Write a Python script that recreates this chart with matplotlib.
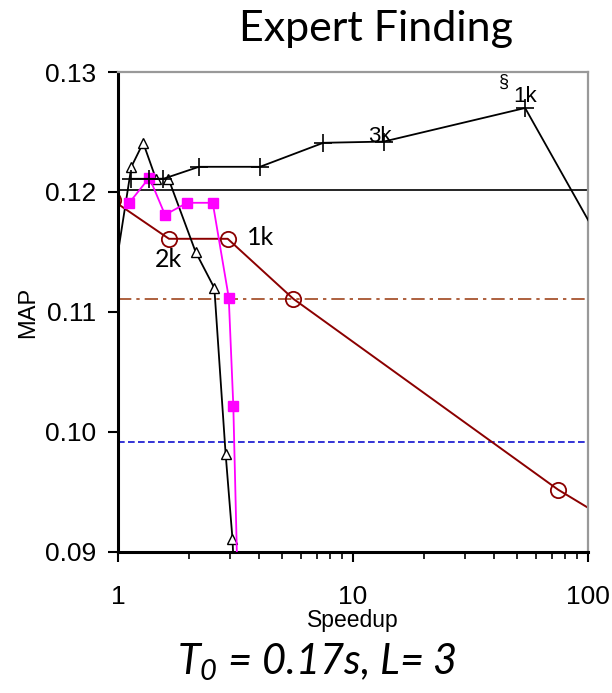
import numpy as np
import matplotlib
matplotlib.use('Agg')
import matplotlib.pyplot as plt
from matplotlib.ticker import LogLocator, NullFormatter, FixedLocator

plt.rcParams['mathtext.fontset'] = 'custom'
plt.rcParams['mathtext.it'] = 'Lato:italic'
plt.rcParams['mathtext.rm'] = 'Lato:italic'

# series (speedup, MAP)
plus_x = [1.14, 1.35, 1.56, 2.21, 4.02, 7.48, 13.5, 54.0, 200.0]
plus_y = [0.1211, 0.1211, 0.1211, 0.1221, 0.1221, 0.1241, 0.1242, 0.1270, 0.1072]

tri_x = [0.90, 1.14, 1.28, 1.45, 1.64, 2.14, 2.57, 2.87, 3.07, 3.12]
tri_y = [0.1092, 0.1221, 0.1241, 0.1211, 0.1211, 0.1150, 0.1120, 0.0982, 0.0911, 0.0880]

sq_x = [1.117, 1.36, 1.585, 1.97, 2.53, 2.96, 3.095, 3.25]
sq_y = [0.1191, 0.1212, 0.1181, 0.1191, 0.1191, 0.1112, 0.1022, 0.0850]

circ_x = [0.95, 1.648, 2.93, 5.57, 74.5, 150.0]
circ_y = [0.1193, 0.1161, 0.1161, 0.1111, 0.0952, 0.0916]

ref_solid = 0.1202
ref_dashdot = 0.1111
ref_dashed = 0.0992

# (text, x, y, font)
labels = [("2k", 1.64, 0.1144, 'Lato'), ("1k", 4.05, 0.1162, 'Lato'),
          ("3k", 13.0, 0.1246, 'Liberation Sans'), ("1k", 53.9, 0.1280, 'Liberation Sans')]

fig = plt.figure(figsize=(6.12, 6.93), dpi=100)
ax = fig.add_axes([0.1928, 0.2035, 0.768, 0.6926])

ax.axhline(ref_solid, color='black', lw=1.2, zorder=1)
ax.axhline(ref_dashdot, color='#a0461e', lw=1.2, ls=(0, (8, 3, 2, 3)), zorder=1)
ax.axhline(ref_dashed, color='#1010d0', lw=1.2, ls=(0, (4, 2)), zorder=1)

ax.plot(circ_x, circ_y, color='#8b0000', lw=1.4, marker='o', ms=11,
        mfc='none', mec='#8b0000', mew=1.3, zorder=2)
ax.plot(tri_x, tri_y, color='black', lw=1.3, marker='^', ms=7,
        mfc='white', mec='black', mew=1.0, zorder=3)
ax.plot(sq_x, sq_y, color='#ff00ff', lw=1.3, marker='s', ms=7,
        mfc='#ff00ff', mec='#ff00ff', zorder=4)
ax.plot(plus_x, plus_y, color='black', lw=1.3, marker='+', ms=13,
        mew=1.2, zorder=5)

for txt, x, y, fam in labels:
    ax.text(x, y, txt, fontsize=18 if fam == 'Lato' else 16, family=fam,
            ha='center', va='center', zorder=6)
ax.text(44.0, 0.1291, u"\u00a7", fontsize=13, family='Liberation Sans',
        ha='center', va='center')

ax.set_xscale('log')
ax.set_xlim(1, 100)
ax.set_ylim(0.09, 0.13)
ax.yaxis.set_major_locator(FixedLocator([0.09, 0.10, 0.11, 0.12, 0.13]))
ax.set_yticklabels(['0.09', '0.10', '0.11', '0.12', '0.13'])
ax.xaxis.set_major_locator(FixedLocator([1, 10, 100]))
ax.set_xticklabels(['1', '10', '100'])
ax.xaxis.set_minor_locator(LogLocator(base=10, subs=np.arange(2, 10)))
ax.xaxis.set_minor_formatter(NullFormatter())

for lab in ax.get_xticklabels() + ax.get_yticklabels():
    lab.set_family('Liberation Sans')
    lab.set_fontsize(19)
ax.tick_params(axis='y', direction='out', length=7, width=1.5, pad=9)
ax.tick_params(axis='x', which='major', direction='out', length=7, width=1.5, pad=17)
ax.tick_params(axis='x', which='minor', direction='out', length=5, width=1.2)

for side in ['left', 'bottom']:
    ax.spines[side].set_color('black')
    ax.spines[side].set_linewidth(2.2)
for side in ['top', 'right']:
    ax.spines[side].set_color('#999999')
    ax.spines[side].set_linewidth(1.6)

ax.set_xlabel('Speedup', fontsize=16.5, family='Liberation Sans', labelpad=0)
ax.set_ylabel('MAP', fontsize=17, family='Liberation Sans', labelpad=4)

fig.text(0.614, 0.958, 'Expert Finding', fontsize=31, family='Lato',
         ha='center', va='center')
fig.text(0.518, 0.044, r'$T_{0}$ = 0.17s, L= 3', fontsize=30, family='Lato',
         style='italic', ha='center', va='center')

fig.savefig('out.png', dpi=100)
